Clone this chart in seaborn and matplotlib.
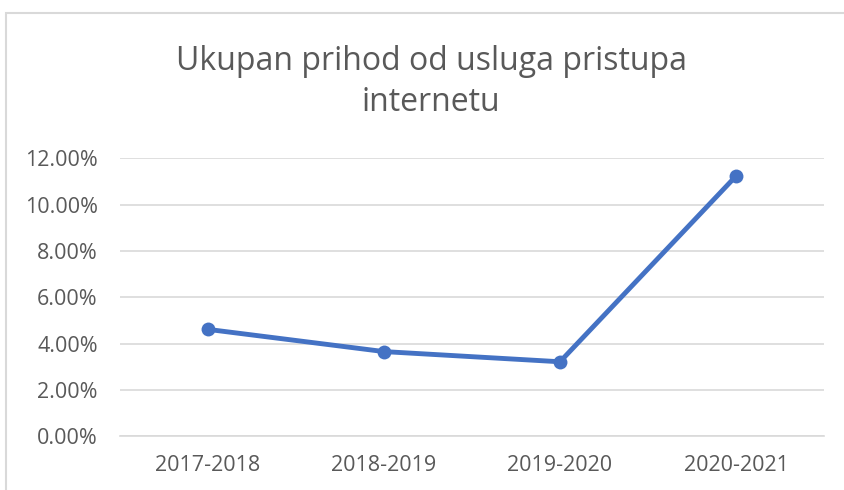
import matplotlib
matplotlib.use("Agg")
import matplotlib.pyplot as plt
import seaborn as sns
import pandas as pd
from matplotlib.patches import Rectangle
from matplotlib.ticker import FuncFormatter

periods = ["2017-2018", "2018-2019", "2019-2020", "2020-2021"]
values = [0.0461, 0.0365, 0.0321, 0.1124]
title = "Ukupan prihod od usluga pristupa\ninternetu"

sns.set_theme(style="white")
plt.rcParams["font.family"] = ["Open Sans", "DejaVu Sans"]

W, H = 844, 490
fig = plt.figure(figsize=(W / 100, H / 100), dpi=100)

# chart border
fig.patches.append(Rectangle((6 / W, -0.1), 1.2, (H - 13) / H + 0.1,
                             transform=fig.transFigure, fill=False,
                             edgecolor="#d9d9d9", linewidth=1.5))

ax = fig.add_axes([120 / W, (H - 436) / H, 704 / W, (436 - 158.5) / H])
df = pd.DataFrame({"period": periods, "value": values})
sns.lineplot(data=df, x="period", y="value", ax=ax, sort=False,
             color="#4472C4", linewidth=3.5, marker="o", markersize=10,
             markeredgewidth=0)

ax.set_xlim(-0.5, len(periods) - 0.5)
ax.set_ylim(0, 0.12)
ax.set_yticks([0, 0.02, 0.04, 0.06, 0.08, 0.10, 0.12])
ax.yaxis.set_major_formatter(FuncFormatter(lambda v, p: f"{v*100:.2f}%"))
ax.grid(axis="y", color="#d9d9d9", linewidth=1.2)
ax.set_axisbelow(True)
for s in ["top", "right", "left"]:
    ax.spines[s].set_visible(False)
ax.spines["bottom"].set_color("#d9d9d9")
ax.spines["bottom"].set_linewidth(1.2)
ax.tick_params(axis="both", length=0, labelsize=15.5, labelcolor="#595959")
ax.tick_params(axis="y", pad=16)
ax.tick_params(axis="x", pad=14)
ax.set_xlabel("")
ax.set_ylabel("")

fig.text(431 / W, 1 - 82 / H, title, ha="center", va="center",
         fontsize=23, color="#595959", linespacing=1.3)

fig.savefig("out.png", dpi=100)
